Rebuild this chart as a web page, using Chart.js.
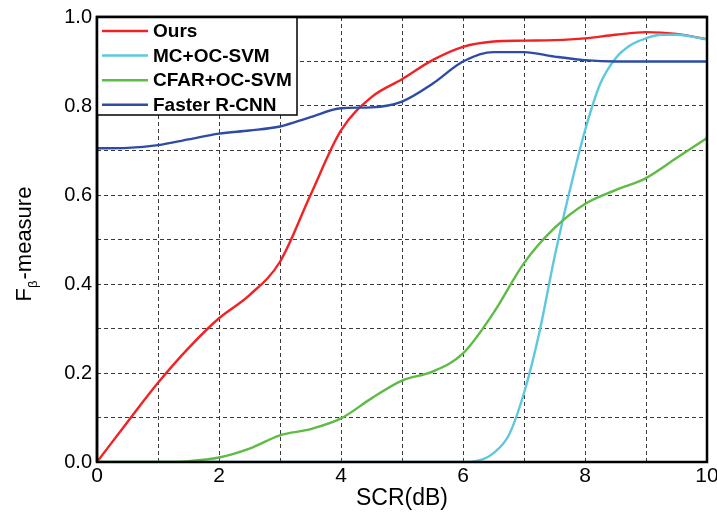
<!DOCTYPE html>
<html>
<head>
<meta charset="utf-8">
<script src="https://cdn.jsdelivr.net/npm/chart.js@4.4.1/dist/chart.umd.min.js"></script>
<style>
  html, body { margin: 0; padding: 0; background: #fff; }
  #wrap { width: 717px; height: 512px; }
</style>
</head>
<body>
<div id="wrap"><canvas id="c" width="717" height="512"></canvas></div>
<script>
// ---- data ----
const seriesNames = ['Ours', 'MC+OC-SVM', 'CFAR+OC-SVM', 'Faster R-CNN'];
const scr = [0, 0.5, 1, 1.5, 2, 2.5, 3, 3.5, 4, 4.5, 5, 5.5, 6, 6.5, 7, 7.5, 8, 8.5, 9, 9.5, 10];
const ours = [0, 0.09, 0.178, 0.256, 0.323, 0.375, 0.45, 0.6, 0.745, 0.82, 0.86, 0.903, 0.933, 0.945, 0.947, 0.948, 0.952, 0.96, 0.966, 0.962, 0.95];
const cfarOcSvm = [0, 0, 0, 0.002, 0.01, 0.03, 0.06, 0.074, 0.098, 0.143, 0.183, 0.203, 0.244, 0.335, 0.447, 0.526, 0.58, 0.611, 0.638, 0.683, 0.728];
const fasterRcnn = [0.705, 0.706, 0.712, 0.725, 0.738, 0.745, 0.754, 0.775, 0.795, 0.797, 0.81, 0.85, 0.9, 0.921, 0.921, 0.911, 0.903, 0.9, 0.9, 0.9, 0.9];
const mcScr = [0, 6, 6.25, 6.5, 6.75, 7, 7.25, 7.5, 7.75, 8, 8.25, 8.5, 8.75, 9, 9.25, 9.5, 9.75, 10];
const mcOcSvm = [0, 0, 0.003, 0.02, 0.06, 0.155, 0.29, 0.46, 0.61, 0.745, 0.85, 0.907, 0.937, 0.952, 0.96, 0.96, 0.956, 0.95];
const xTickLabels = ['0', '2', '4', '6', '8', '10'];
const yTickLabels = ['0.0', '0.2', '0.4', '0.6', '0.8', '1.0'];
const xTitle = 'SCR(dB)';
const yTitleMain = 'F', yTitleSub = 'β', yTitleRest = '-measure';

const colors = ['#F22222', '#5EC8DE', '#5EBB46', '#2E4CA6'];
const FONT = '"Liberation Sans", Arial, sans-serif';

function pts(xs, ys) { return xs.map((x, i) => ({ x: x, y: ys[i] })); }

const frameLegendPlugin = {
  id: 'frameLegend',
  afterDraw(chart) {
    const ctx = chart.ctx, a = chart.chartArea;
    ctx.save();
    // frame
    ctx.strokeStyle = '#000';
    ctx.lineWidth = 2.5;
    ctx.strokeRect(a.left, a.top, a.right - a.left, a.bottom - a.top);
    // legend box
    const lx = a.left, ly = a.top, lw = 200, lh = 98;
    ctx.fillStyle = '#fff';
    ctx.fillRect(lx, ly, lw, lh);
    ctx.lineWidth = 1.5;
    ctx.strokeRect(lx, ly, lw, lh);
    ctx.font = 'bold 19px ' + FONT;
    ctx.textBaseline = 'middle';
    ctx.textAlign = 'left';
    chart.data.datasets.forEach((ds, i) => {
      const cy = ly + 14 + i * 24.6;
      ctx.strokeStyle = ds.borderColor;
      ctx.lineWidth = 2.5;
      ctx.beginPath();
      ctx.moveTo(lx + 5, cy);
      ctx.lineTo(lx + 51, cy);
      ctx.stroke();
      ctx.fillStyle = '#000';
      ctx.fillText(ds.label, lx + 56, cy + 1);
    });
    // redraw frame edges over legend
    ctx.strokeStyle = '#000';
    ctx.lineWidth = 2.5;
    ctx.beginPath();
    ctx.moveTo(a.left, a.bottom); ctx.lineTo(a.left, a.top); ctx.lineTo(a.right, a.top);
    ctx.stroke();
    // y title with subscript
    ctx.fillStyle = '#000';
    ctx.textBaseline = 'alphabetic';
    const big = '22px ' + FONT, small = '13px ' + FONT;
    ctx.font = big; const w1 = ctx.measureText(yTitleMain).width; const w3 = ctx.measureText(yTitleRest).width;
    ctx.font = small; const w2 = ctx.measureText(yTitleSub).width;
    const total = w1 + w2 + 1 + w3;
    ctx.translate(31, 244 + total / 2);
    ctx.rotate(-Math.PI / 2);
    ctx.font = big; ctx.fillText(yTitleMain, 0, 0);
    ctx.font = small; ctx.fillText(yTitleSub, w1, 6);
    ctx.font = big; ctx.fillText(yTitleRest, w1 + w2 + 1, 0);
    ctx.restore();
  }
};

const gridCommon = { color: '#3a3a3a', lineWidth: 1, drawTicks: false };

new Chart(document.getElementById('c'), {
  type: 'line',
  data: {
    datasets: [
      { label: seriesNames[0], data: pts(scr, ours), borderColor: colors[0], order: 4 },
      { label: seriesNames[1], data: pts(mcScr, mcOcSvm), borderColor: colors[1], order: 3 },
      { label: seriesNames[2], data: pts(scr, cfarOcSvm), borderColor: colors[2], order: 1 },
      { label: seriesNames[3], data: pts(scr, fasterRcnn), borderColor: colors[3], order: 2 }
    ]
  },
  options: {
    responsive: false,
    animation: false,
    devicePixelRatio: 1,
    datasets: { line: { borderWidth: 2.4, pointRadius: 0, cubicInterpolationMode: 'monotone', fill: false } },
    layout: { padding: { left: 0, top: 17, right: 10, bottom: 0 } },
    plugins: { legend: { display: false }, tooltip: { enabled: false } },
    scales: {
      x: {
        type: 'linear', min: 0, max: 10,
        grid: gridCommon,
        border: { display: false, dash: [4, 3] },
        ticks: {
          stepSize: 1, autoSkip: false, maxRotation: 0, padding: 2,
          color: '#000', font: { family: FONT, size: 21 },
          callback: (v) => { const k = Math.round(v); return k % 2 === 0 ? xTickLabels[k / 2] : ''; }
        },
        title: { display: true, text: xTitle, color: '#000', font: { family: FONT, size: 23 }, padding: { top: -3, bottom: 0 } },
        afterFit: (axis) => { axis.height = 50; axis.paddingLeft = 0; axis.paddingRight = 0; }
      },
      y: {
        type: 'linear', min: 0, max: 1,
        grid: gridCommon,
        border: { display: false, dash: [4, 3] },
        ticks: {
          stepSize: 0.1, autoSkip: false, padding: 5,
          color: '#000', font: { family: FONT, size: 20 },
          callback: (v) => { const k = Math.round(v * 10); return k % 2 === 0 ? yTickLabels[k / 2] : ''; }
        },
        afterFit: (axis) => { axis.width = 97; axis.paddingTop = 0; axis.paddingBottom = 0; }
      }
    }
  },
  plugins: [frameLegendPlugin]
});
</script>
</body>
</html>
